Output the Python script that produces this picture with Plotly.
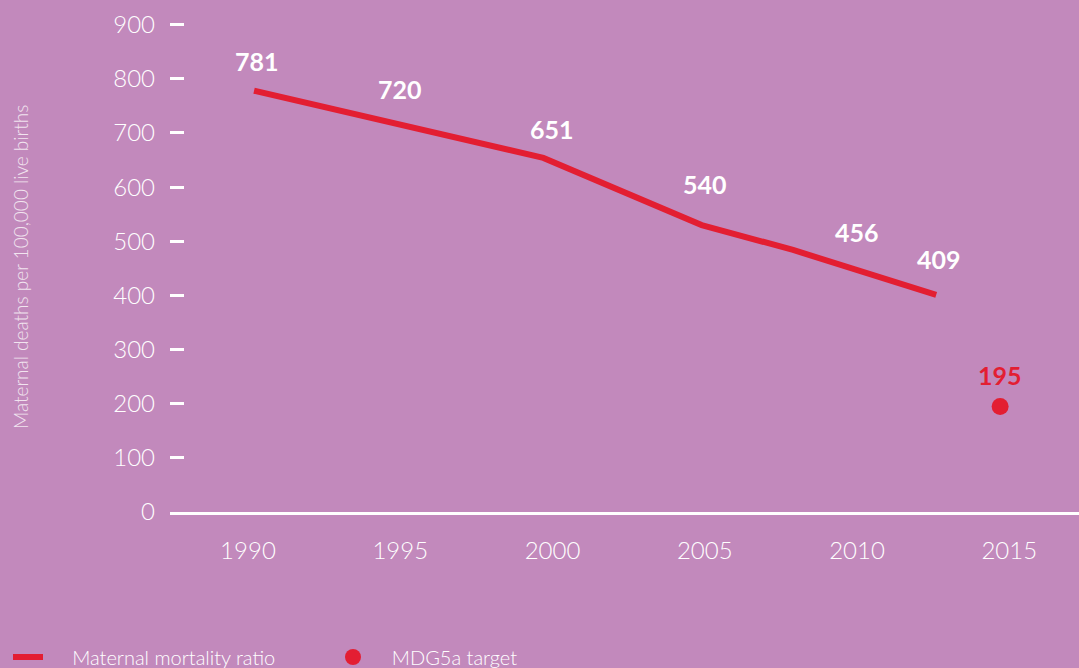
import plotly.graph_objects as go

# Maternal mortality ratio line (as drawn)
line_years = [1990.2, 1999.7, 2004.9, 2007.9, 2012.6]
line_values = [778, 654, 530, 484, 401]

# Labelled estimates
label_years = [1990.3, 1995, 2000, 2005, 2010, 2012.7]
label_values = [781, 720, 651, 540, 456, 409]

# MDG5a target
target_year = [2014.7]
target_value = [195]

tick_years = [1990, 1995, 2000, 2005, 2010, 2015]
y_ticks = [0, 100, 200, 300, 400, 500, 600, 700, 800, 900]

BG = "#C289BC"
RED = "#E31E32"
FONT = "Lato, 'Open Sans', sans-serif"
PAD = "\u00a0"
THIN = "\u2009"

fig = go.Figure()

fig.add_trace(go.Scatter(
    x=line_years,
    y=line_values,
    mode="lines",
    name=PAD * 4 + THIN + "Maternal mortality ratio",
    line=dict(color=RED, width=6),
    hoverinfo="skip",
))

fig.add_trace(go.Scatter(
    x=target_year,
    y=target_value,
    mode="markers",
    name=PAD * 3 + THIN + "MDG5a target",
    marker=dict(color=RED, size=17),
    hoverinfo="skip",
))

# value labels above the line
shifts = [28, 33, 31, 36, 33, 32]
for yr, val, sh in zip(label_years, label_values, shifts):
    fig.add_annotation(
        x=yr, y=val, text=str(val), showarrow=False, yshift=sh,
        font=dict(family=FONT, size=25, color="white", weight="bold"),
    )

fig.add_annotation(
    x=target_year[0], y=target_value[0], text=str(target_value[0]),
    showarrow=False, yshift=31,
    font=dict(family=FONT, size=25, color=RED, weight="bold"),
)

# y axis title
fig.add_annotation(
    xref="paper", yref="paper", x=-0.165, y=0.5,
    text="Maternal deaths per 100,000 live births", textangle=-90,
    showarrow=False, xanchor="center", yanchor="middle",
    font=dict(family=FONT, size=19, color="#F1E4EF", weight=300),
)

fig.update_layout(
    width=1079,
    height=668,
    paper_bgcolor=BG,
    plot_bgcolor=BG,
    margin=dict(l=170, r=0, t=22, b=156, autoexpand=False),
    font=dict(family=FONT, color="white", size=24, weight=300),
    showlegend=True,
    legend=dict(
        orientation="h",
        x=-162 / 909, xanchor="left",
        y=-145 / 490, yanchor="middle",
        font=dict(family=FONT, size=20, color="white", weight=300),
        bgcolor="rgba(0,0,0,0)",
        entrywidth=280,
    ),
)

fig.update_xaxes(
    range=[1987.44, 2017.29],
    tickvals=tick_years,
    ticktext=[str(y) for y in tick_years],
    showgrid=False,
    zeroline=False,
    showline=True,
    linecolor="white",
    linewidth=3,
    ticks="",
    ticklabelstandoff=15,
    tickfont=dict(family=FONT, size=24, color="white", weight=300),
)

fig.update_yaxes(
    range=[0, 905],
    tickvals=y_ticks,
    showgrid=False,
    zeroline=False,
    showline=False,
    ticks="inside",
    ticklen=14,
    tickwidth=2.5,
    tickcolor="white",
    ticklabelstandoff=14,
    tickfont=dict(family=FONT, size=24, color="white", weight=300),
)

fig.write_html(
    "out.html",
    config={"displayModeBar": False},
    post_script="document.body.style.margin='0';",
)
